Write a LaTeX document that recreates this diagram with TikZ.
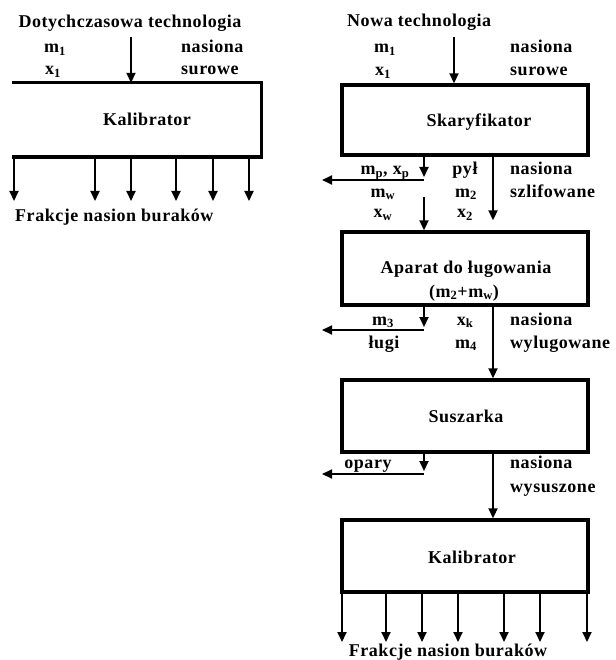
\documentclass[tikz,border=0pt]{standalone}
\usepackage{fontspec}
\setmainfont{Liberation Serif}[LetterSpace=3]
\usetikzlibrary{arrows.meta}

\begin{document}
\begin{tikzpicture}[x=1pt,y=-1pt,
  lbl/.style={font=\bfseries\fontsize{18}{20}\selectfont, inner sep=0pt, anchor=base},
  lblw/.style={lbl, anchor=base west},
  unit/.style={draw, line width=3.4pt, minimum width=246pt, minimum height=71pt, inner sep=0pt},
  outline/.style={line width=3.4pt},
  flow/.style={line width=1.9pt, -{Triangle[length=10pt,width=9pt]}}]
\def\sandx{493}
\def\sidex{424}
\useasboundingbox (0,0) rectangle (615,660);

\begin{scope}
\node[lbl] (oldtitle) at (130,28) {Dotychczasowa technologia};
\node[lblw] (oldm) at (44,53) {m\textsubscript{1}};
\node[lblw] (oldx) at (45,75) {x\textsubscript{1}};
\node[lblw] (oldseed) at (181,53) {nasiona};
\node[lblw] (oldraw) at (181,75) {surowe};

\node[unit, draw=none] (oldkal) at (136.5,120) {};
\node[lbl] (oldkallbl) at (147,126) {Kalibrator};
\draw[outline] (oldkal.north west) -- (oldkal.north east) -- (oldkal.south east) -- (oldkal.south west);

\coordinate (oldfeed) at (131,37);
\draw[flow] (oldfeed) -- (oldfeed |- oldkal.north);
\foreach \xo in {14,95,131,176,213,249}
  \draw[flow] (\xo,0 |- oldkal.south) -- (\xo,201);
\node[lblw] (oldfrac) at (15,222) {Frakcje nasion buraków};
\end{scope}

\begin{scope}
\node[lblw] (newtitle) at (347,27) {Nowa technologia};
\node[lblw] (newm) at (374,53) {m\textsubscript{1}};
\node[lblw] (newx) at (375,76) {x\textsubscript{1}};
\node[lblw] (newseed) at (510,53) {nasiona};
\node[lblw] (newraw) at (510,76) {surowe};

\node[unit, minimum height=70pt] (skar) at (465,120) {};
\node[lbl] (skarlbl) at (479,127) {Skaryfikator};
\coordinate (newfeed) at (454,37);
\draw[flow] (newfeed) -- (newfeed |- skar.north);

\node[lbl] (dustmx) at (385,175) {m\textsubscript{p}, x\textsubscript{p}};
\node[lbl] (dust) at (465,175) {pył};
\node[lblw] (sandseed) at (510,175) {nasiona};
\node[lblw] (sanded) at (510,197) {szlifowane};
\node[lbl] (washm) at (383,197) {m\textsubscript{w}};
\node[lbl] (washx) at (383,218) {x\textsubscript{w}};
\node[lbl] (sandm) at (466,197) {m\textsubscript{2}};
\node[lbl] (sandx) at (465,218) {x\textsubscript{2}};

\coordinate (dustout) at (\sidex,180);
\draw[flow, shorten >=3pt] (dustout |- skar.south) -- (dustout);
\draw[flow] (dustout) -- ++(-102,0);

\node[unit, minimum height=73pt] (apar) at (465,268.5) {};
\node[lbl] (aparlbl) at (466,273) {Aparat do ługowania};
\node[lbl] (aparmix) at (464,297) {(m\textsubscript{2}+m\textsubscript{w})};
\coordinate (washin) at (\sidex,197);
\draw[flow] (washin) -- (washin |- apar.north);
\draw[flow, shorten >=10pt] (\sandx,0 |- skar.south) -- (\sandx,0 |- apar.north);

\node[lbl] (lyem) at (383,325) {m\textsubscript{3}};
\node[lbl] (lye) at (384,348) {ługi};
\node[lbl] (leachx) at (465,325) {x\textsubscript{k}};
\node[lbl] (leachm) at (466,348) {m\textsubscript{4}};
\node[lblw] (leachseed) at (510,325) {nasiona};
\node[lblw] (leached) at (510,348) {wylugowane};

\coordinate (lyeout) at (\sidex,330);
\draw[flow, shorten >=3pt] (lyeout |- apar.south) -- (lyeout);
\draw[flow] (lyeout) -- ++(-102,0);

\node[unit, minimum height=72pt] (dryer) at (465,416) {};
\node[lbl] (dryerlbl) at (466,422) {Suszarka};
\draw[flow] (\sandx,0 |- apar.south) -- (\sandx,0 |- dryer.north);

\node[lbl] (vapour) at (368,468) {opary};
\node[lblw] (dryseed) at (510,468) {nasiona};
\node[lblw] (dried) at (510,492) {wysuszone};
\coordinate (vapourout) at (\sidex,474);
\draw[flow, shorten >=3pt] (vapourout |- dryer.south) -- (vapourout);
\draw[flow] (vapourout) -- ++(-102,0);

\node[unit, minimum height=72pt] (newkal) at (465,556) {};
\node[lbl] (newkallbl) at (472,563) {Kalibrator};
\draw[flow] (\sandx,0 |- dryer.south) -- (\sandx,0 |- newkal.north);
\foreach \xo in {342,386,422,458,504,540,587}
  \draw[flow] (\xo,0 |- newkal.south) -- (\xo,642);
\node[lbl] (newfrac) at (448,656) {Frakcje nasion buraków};
\end{scope}

\end{tikzpicture}
\end{document}
